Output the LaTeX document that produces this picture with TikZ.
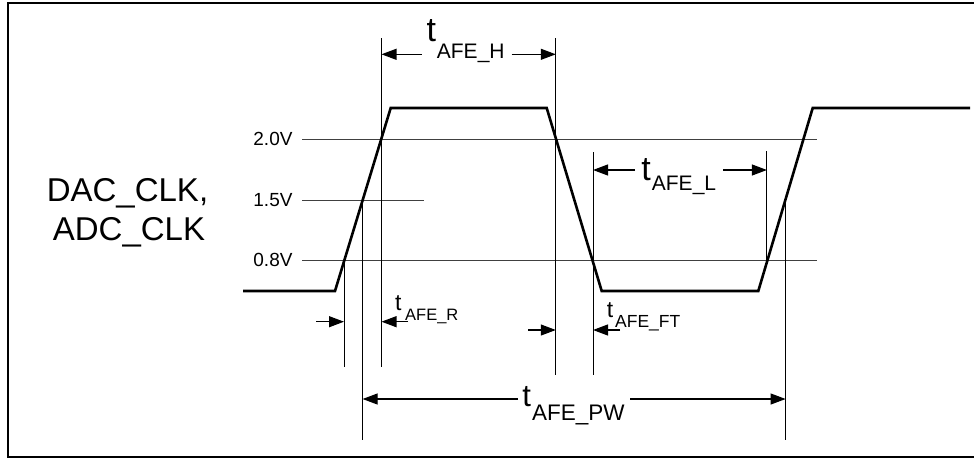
\documentclass[tikz,border=0pt]{standalone}
\usepackage{fontspec}
\setmainfont{Liberation Sans}
\usetikzlibrary{arrows.meta}
\tikzset{
  wave/.style={line width=2.6pt, line join=miter, line cap=butt},
  thr/.style={line width=0.9pt, black!75},
  vline/.style={line width=0.9pt, black},
  frame/.style={line width=2pt},
  dim/.style={line width=1.1pt, -{Triangle[length=15pt,width=11pt]}},
  lbl/.style={inner sep=0pt, anchor=base west},
  vlbl/.style={inner sep=0pt, anchor=base east, font=\fontsize{19}{20}\selectfont},
  biglbl/.style={inner sep=0pt, anchor=base, font=\fontsize{33}{38}\selectfont},
}
\newcommand{\fsz}[1]{\fontsize{#1}{#1}\selectfont}
\begin{document}
\begin{tikzpicture}[x=1pt,y=-1pt]
\useasboundingbox (0,0) rectangle (974,458);
% frame
\draw[frame] (978,3.3) -- (7.5,3.3) -- (7.5,457) -- (978,457);
% waveform coordinates
\coordinate (w0) at (243,291);
\coordinate (w1) at (335,291);
\coordinate (w2) at (390.7,108);
\coordinate (w3) at (546.7,108);
\coordinate (w4) at (601.7,291);
\coordinate (w5) at (758.3,291);
\coordinate (w6) at (812.7,108);
\coordinate (w7) at (970,108);
% threshold lines
\coordinate (h20a) at (302,139);   \coordinate (h20b) at (817,139);
\coordinate (h15a) at (302,200);   \coordinate (h15b) at (424,200);
\coordinate (h08a) at (302,260.7); \coordinate (h08b) at (817,260.7);
\draw[thr] (h20a) -- (h20b);
\draw[thr] (h15a) -- (h15b);
\draw[thr] (h08a) -- (h08b);
% vertical reference lines
\coordinate (v1a) at (344,260.7);   \coordinate (v1b) at (344,367);
\coordinate (v2a) at (362.6,200);   \coordinate (v2b) at (362.6,440);
\coordinate (v3a) at (381.5,38);    \coordinate (v3b) at (381.5,367);
\coordinate (v4a) at (555.8,38);    \coordinate (v4b) at (555.8,375);
\coordinate (v5a) at (593,152);     \coordinate (v5b) at (593,375);
\coordinate (v6a) at (766.9,151);   \coordinate (v6b) at (766.9,260.7);
\coordinate (v7a) at (785.6,200);   \coordinate (v7b) at (785.6,440);
\foreach \i in {1,...,7} {\draw[vline] (v\i a) -- (v\i b);}
% waveform
\draw[wave] (w0) -- (w1) -- (w2) -- (w3) -- (w4) -- (w5) -- (w6) -- (w7);
% voltage labels
\node[vlbl] (l20) at (292.7,145) {2.0V};
\node[vlbl] (l15) at (292.7,206) {1.5V};
\node[vlbl] (l08) at (292.7,266.7) {0.8V};
\node[biglbl] (sig1) at (127.5,201.7) {DAC\_CLK,};
\node[biglbl] (sig2) at (129,240.7) {ADC\_CLK};
% t_AFE_H
\coordinate (hL) at (381.5,54.3); \coordinate (hLs) at (421.7,54.3);
\coordinate (hR) at (555.8,54.3); \coordinate (hRs) at (511.7,54.3);
\draw[dim] (hLs) -- (hL);
\draw[dim] (hRs) -- (hR);
\node[lbl,font=\fsz{34}] (tH) at (426.5,41.7) {t};
\node[lbl,font=\fsz{21}] (tHs) at (436.7,58.3) {AFE\_H};
% t_AFE_L
\coordinate (lL) at (593,170); \coordinate (lLs) at (635,170);
\coordinate (lR) at (766.9,170); \coordinate (lRs) at (723,170);
\draw[dim] (lLs) -- (lL);
\draw[dim] (lRs) -- (lR);
\node[lbl,font=\fsz{34}] (tL) at (641.2,180) {t};
\node[lbl,font=\fsz{21}] (tLs) at (651.7,190) {AFE\_L};
% t_AFE_R
\coordinate (rL) at (344,321.7); \coordinate (rLs) at (316,321.7);
\coordinate (rR) at (381.5,321.7); \coordinate (rRs) at (408,321.7);
\draw[dim] (rLs) -- (rL);
\draw[dim] (rRs) -- (rR);
\node[lbl,font=\fsz{23}] (tR) at (395,310) {t};
\node[lbl,font=\fsz{16.5}] (tRs) at (405,320.7) {AFE\_R};
% t_AFE_FT
\coordinate (fL) at (555.8,330); \coordinate (fLs) at (528,330);
\coordinate (fR) at (593,330); \coordinate (fRs) at (620,330);
\draw[dim] (fLs) -- (fL);
\draw[dim] (fRs) -- (fR);
\node[lbl,font=\fsz{23}] (tF) at (606.7,317.7) {t};
\node[lbl,font=\fsz{17.5}] (tFs) at (615,327.7) {AFE\_FT};
% t_AFE_PW
\coordinate (pL) at (362.6,399); \coordinate (pLs) at (518,399);
\coordinate (pR) at (785.6,399); \coordinate (pRs) at (630,399);
\draw[dim] (pLs) -- (pL);
\draw[dim] (pRs) -- (pR);
\node[lbl,font=\fsz{31}] (tP) at (522.2,406.7) {t};
\node[lbl,font=\fsz{22.5}] (tPs) at (532,420) {AFE\_PW};
\end{tikzpicture}
\end{document}
